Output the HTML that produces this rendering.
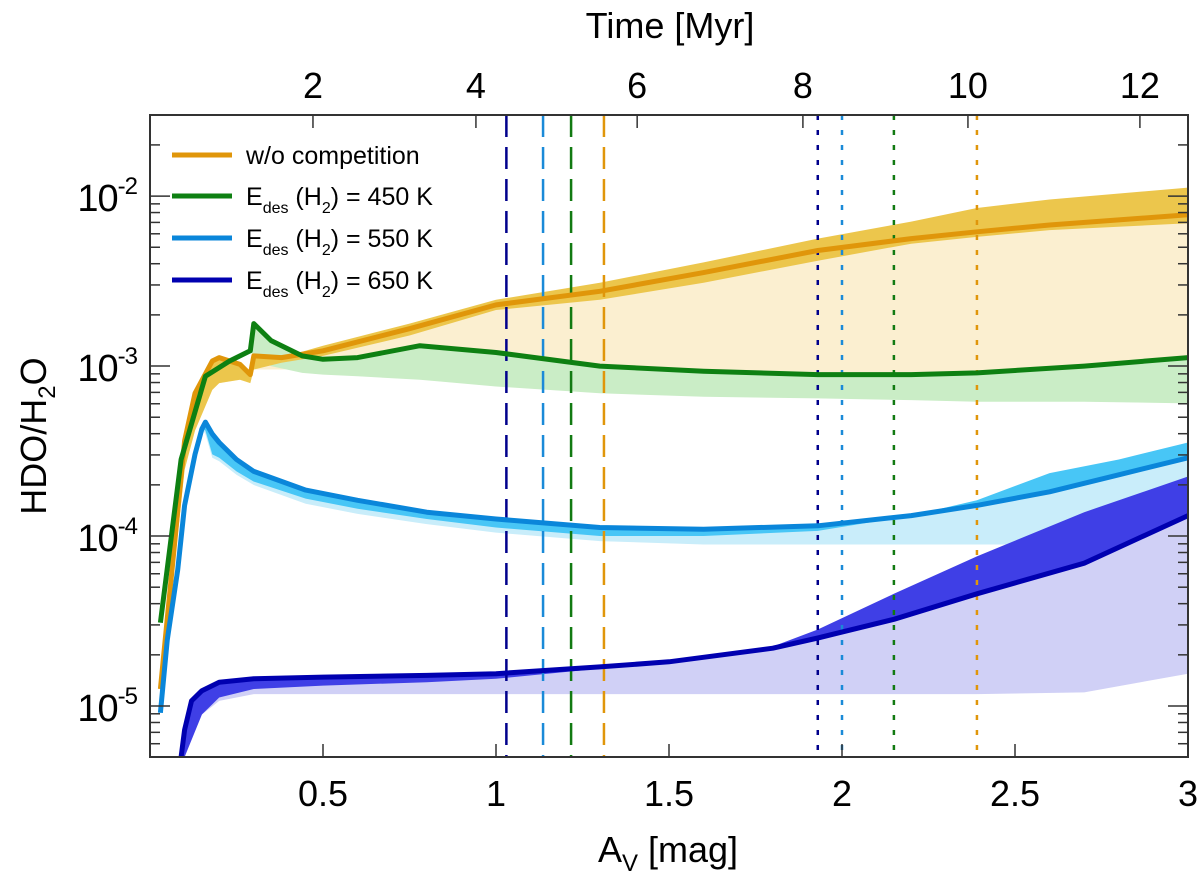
<!DOCTYPE html>
<html><head><meta charset="utf-8">
<style>
html,body{margin:0;padding:0;background:#fff;}
svg{display:block;font-family:"Liberation Sans",Arial,sans-serif;}
</style></head>
<body>
<svg id="chart" width="1200" height="880" viewBox="0 0 1200 880" xmlns="http://www.w3.org/2000/svg">
<defs><clipPath id="clip"><rect x="150" y="115" width="1038" height="642"/></clipPath></defs>
<g id="fills" clip-path="url(#clip)"></g>
<g id="vlines" clip-path="url(#clip)"></g>
<g id="lines" clip-path="url(#clip)"></g>
<g id="axes"></g>
<g id="legend"></g>
</svg>
<script>
// ---- data (A_V in mag, values are log10(HDO/H2O)) ----
const oA = [0.03,0.1,0.13,0.18,0.2,0.26,0.29,0.3,0.38,0.5,0.75,1.0,1.3,1.6,1.93,2.2,2.39,2.6,3.0];
const oLine = [-4.9,-3.44,-3.16,-2.97,-2.95,-2.99,-3.05,-2.94,-2.95,-2.91,-2.78,-2.64,-2.56,-2.45,-2.32,-2.25,-2.21,-2.17,-2.11];
const oHi = [-4.9,-3.44,-3.16,-2.97,-2.95,-2.99,-3.05,-2.94,-2.95,-2.88,-2.75,-2.61,-2.51,-2.39,-2.25,-2.15,-2.07,-2.02,-1.95];
const oLo = [-4.96,-3.61,-3.38,-3.14,-3.1,-3.08,-3.1,-3.02,-2.98,-2.94,-2.82,-2.67,-2.61,-2.51,-2.38,-2.28,-2.24,-2.2,-2.16];
const oLight = [-4.96,-3.61,-3.38,-3.14,-3.1,-3.08,-3.1,-3.02,-3.02,-3.01,-3.0,-3.0,-3.0,-3.03,-3.04,-3.04,-3.03,-3.0,-2.95];

const gA = [0.03,0.09,0.16,0.23,0.29,0.3,0.35,0.44,0.5,0.6,0.78,1.0,1.3,1.6,1.93,2.2,2.39,2.7,3.0];
const gLine = [-4.51,-3.55,-3.06,-2.97,-2.91,-2.75,-2.85,-2.94,-2.96,-2.95,-2.88,-2.92,-3.0,-3.03,-3.05,-3.05,-3.04,-3.0,-2.95];
const gLight = [-4.51,-3.55,-3.06,-2.97,-2.91,-2.95,-3.0,-3.04,-3.05,-3.06,-3.08,-3.12,-3.16,-3.18,-3.19,-3.2,-3.21,-3.21,-3.22];

const bA = [0.03,0.05,0.08,0.1,0.13,0.15,0.16,0.18,0.2,0.25,0.3,0.45,0.6,0.8,1.0,1.3,1.6,1.93,2.2,2.39,2.6,2.8,3.0];
const bLine = [-5.04,-4.61,-4.2,-3.82,-3.52,-3.37,-3.33,-3.4,-3.45,-3.55,-3.62,-3.73,-3.79,-3.86,-3.9,-3.95,-3.96,-3.94,-3.88,-3.82,-3.74,-3.64,-3.54];
const bDark = [-5.04,-4.61,-4.2,-3.82,-3.52,-3.37,-3.38,-3.52,-3.54,-3.62,-3.68,-3.78,-3.84,-3.9,-3.95,-4.0,-4.0,-3.97,-3.88,-3.79,-3.63,-3.55,-3.45];
const bLight = [-5.04,-4.61,-4.2,-3.82,-3.52,-3.37,-3.4,-3.54,-3.56,-3.64,-3.7,-3.81,-3.87,-3.93,-3.98,-4.03,-4.05,-4.05,-4.05,-4.05,-4.05,-4.05,-4.05];

const nA = [0.09,0.1,0.12,0.15,0.2,0.3,0.5,0.8,1.0,1.3,1.5,1.8,1.93,2.15,2.39,2.7,3.0];
const nLine = [-5.3,-5.14,-4.97,-4.91,-4.86,-4.84,-4.83,-4.82,-4.81,-4.77,-4.74,-4.66,-4.6,-4.49,-4.34,-4.16,-3.88];
const nDark = [-5.4,-5.3,-5.2,-5.05,-4.95,-4.9,-4.88,-4.86,-4.84,-4.78,-4.74,-4.65,-4.55,-4.34,-4.12,-3.86,-3.65];
const nLight = [-5.4,-5.3,-5.2,-5.05,-4.97,-4.93,-4.93,-4.93,-4.93,-4.93,-4.93,-4.93,-4.93,-4.93,-4.93,-4.92,-4.81];

const dashedAv = [1.03,1.136,1.217,1.312];
const dottedAv = [1.93,2.0,2.15,2.39];
const vColors = ["#00008c","#1a8ad8","#127a12","#e0960a"];

const xTicks = [0.5,1,1.5,2,2.5,3];
const xTickLabels = ["0.5","1","1.5","2","2.5","3"];
const timeLabels = ["2","4","6","8","10","12"];
const timeTickAv = [0.471,0.942,1.408,1.887,2.364,2.861];
const yDecades = [-2,-3,-4,-5];
const yLabels = ["-2","-3","-4","-5"];

// ---- scales ----
const X0=150, X1=1188, Y0=115, Y1=757;
const AMIN=0, AMAX=3, LMAX=-1.523, LMIN=-5.3;
const xs = a => X0 + (a-AMIN)/(AMAX-AMIN)*(X1-X0);
const ys = l => Y0 + (LMAX-l)/(LMAX-LMIN)*(Y1-Y0);
const NS="http://www.w3.org/2000/svg";
function mk(tag, parent){const e=document.createElementNS(NS,tag);parent.appendChild(e);return e;}
function pts(A,V){return A.map((a,i)=>xs(a).toFixed(1)+","+ys(V[i]).toFixed(1));}
function band(parent,A,U,L,color,name){
  const p=mk("polygon",parent);
  p.setAttribute("points",pts(A,U).concat(pts(A,L).reverse()).join(" "));
  p.setAttribute("fill",color);
  
  
}
function line(parent,A,V,color,name){
  const p=mk("polyline",parent);
  p.setAttribute("points",pts(A,V).join(" "));
  p.setAttribute("fill","none");p.setAttribute("stroke",color);p.setAttribute("stroke-width","5");
  p.setAttribute("stroke-linejoin","round");
  
  
}
const F=document.getElementById("fills"), Lg=document.getElementById("lines");
band(F,oA,oLine,oLight,"#fbefd0","wo-competition-light-band");
band(F,gA,gLine,gLight,"#caedc6","450k-light-band");
band(F,bA,bLine,bLight,"#c9edfa","550k-light-band");
band(F,nA,nLine,nLight,"#d0d0f6","650k-light-band");
band(F,oA,oHi,oLo,"#ecc64c","wo-competition-band");
band(F,bA,bLine,bDark,"#48c6f6","550k-band");
band(F,nA,nLine,nDark,"#3f3fe6","650k-band");
line(Lg,oA,oLine,"#e0960a","wo-competition-line");
line(Lg,gA,gLine,"#0e8012","450k-line");
line(Lg,bA,bLine,"#0a86da","550k-line");
line(Lg,nA,nLine,"#0000b0","650k-line");

const V=document.getElementById("vlines");
dashedAv.forEach((a,i)=>{const l=mk("line",V);
  l.setAttribute("x1",xs(a));l.setAttribute("x2",xs(a));l.setAttribute("y1",Y0);l.setAttribute("y2",Y1);
  l.setAttribute("stroke",vColors[i]);l.setAttribute("stroke-width","2.5");l.setAttribute("stroke-dasharray","22 10");
  
  });
dottedAv.forEach((a,i)=>{const l=mk("line",V);
  l.setAttribute("x1",xs(a));l.setAttribute("x2",xs(a));l.setAttribute("y1",Y0);l.setAttribute("y2",Y1);
  l.setAttribute("stroke",vColors[i]);l.setAttribute("stroke-width","2.5");l.setAttribute("stroke-dasharray","5 10");
  
  });

// ---- axes ----
const AX=document.getElementById("axes");
function seg(x1,y1,x2,y2,w){const l=mk("line",AX);l.setAttribute("x1",x1);l.setAttribute("y1",y1);l.setAttribute("x2",x2);l.setAttribute("y2",y2);l.setAttribute("stroke","#333");l.setAttribute("stroke-width",w||1.5);return l;}
function txt(x,y,s,size,anchor){const t=mk("text",AX);t.setAttribute("x",x);t.setAttribute("y",y);t.setAttribute("font-size",size);t.setAttribute("text-anchor",anchor||"middle");t.setAttribute("fill","#000");t.textContent=s;return t;}
const fr=mk("rect",AX);fr.setAttribute("x",X0);fr.setAttribute("y",Y0);fr.setAttribute("width",X1-X0);fr.setAttribute("height",Y1-Y0);
fr.setAttribute("fill","none");fr.setAttribute("stroke","#333");fr.setAttribute("stroke-width","2");


xTicks.forEach((a,i)=>{seg(xs(a),Y1,xs(a),Y1-13);
  const t=txt(xs(a),806,xTickLabels[i],36);
  
  });
timeTickAv.forEach((a,i)=>{seg(xs(a),Y0,xs(a),Y0+13);
  const t=txt(xs(a),98,timeLabels[i],36);
  
  });
for(let d=-6; d<=-1; d++){
  for(let m=1;m<=9;m++){
    const l=d+Math.log10(m); if(l<LMIN||l>LMAX) continue;
    const y=ys(l), len=(m===1)?20:10;
    seg(X0,y,X0+len,y); seg(X1,y,X1-len,y);
  }
}
yDecades.forEach((d,i)=>{const y=ys(d);
  const t=mk("text",AX);t.setAttribute("x",137);t.setAttribute("y",y+15);t.setAttribute("font-size",38);t.setAttribute("text-anchor","end");
  t.setAttribute("letter-spacing","-1");
  t.innerHTML='10<tspan dy="-17" font-size="24">'+yLabels[i]+'</tspan>';
  
  });
const xt=mk("text",AX);xt.setAttribute("x",668);xt.setAttribute("y",862);xt.setAttribute("font-size",36);xt.setAttribute("text-anchor","middle");
xt.innerHTML='A<tspan dy="9" font-size="24">V</tspan><tspan dy="-9"> [mag]</tspan>';


const tt=txt(670,38,"Time [Myr]",36);


const yt=mk("text",AX);yt.setAttribute("transform","translate(46,436) rotate(-90)");yt.setAttribute("font-size",36);yt.setAttribute("text-anchor","middle");
yt.innerHTML='HDO/H<tspan dy="9" font-size="24">2</tspan><tspan dy="-9">O</tspan>';



// ---- legend ----
const LG=document.getElementById("legend");
const legColors=["#e0960a","#0e8012","#0a86da","#0000b0"];
const legTemps=["","450","550","650"];
const legY=[155,196,238,280];
legColors.forEach((c,i)=>{
  const g=mk("g",LG);
  
  
  const l=mk("line",g);l.setAttribute("x1",172);l.setAttribute("x2",232);l.setAttribute("y1",legY[i]);l.setAttribute("y2",legY[i]);
  l.setAttribute("stroke",c);l.setAttribute("stroke-width",5);
  const t=mk("text",g);t.setAttribute("x",246);t.setAttribute("y",legY[i]+9);t.setAttribute("font-size",25);
  if(i===0){t.textContent="w/o competition";}
  else{t.innerHTML='E<tspan dy="8" font-size="16">des</tspan><tspan dy="-8"> (H</tspan><tspan dy="8" font-size="16">2</tspan><tspan dy="-8">) = '+legTemps[i]+' K</tspan>';}
});
</script>
</body></html>
